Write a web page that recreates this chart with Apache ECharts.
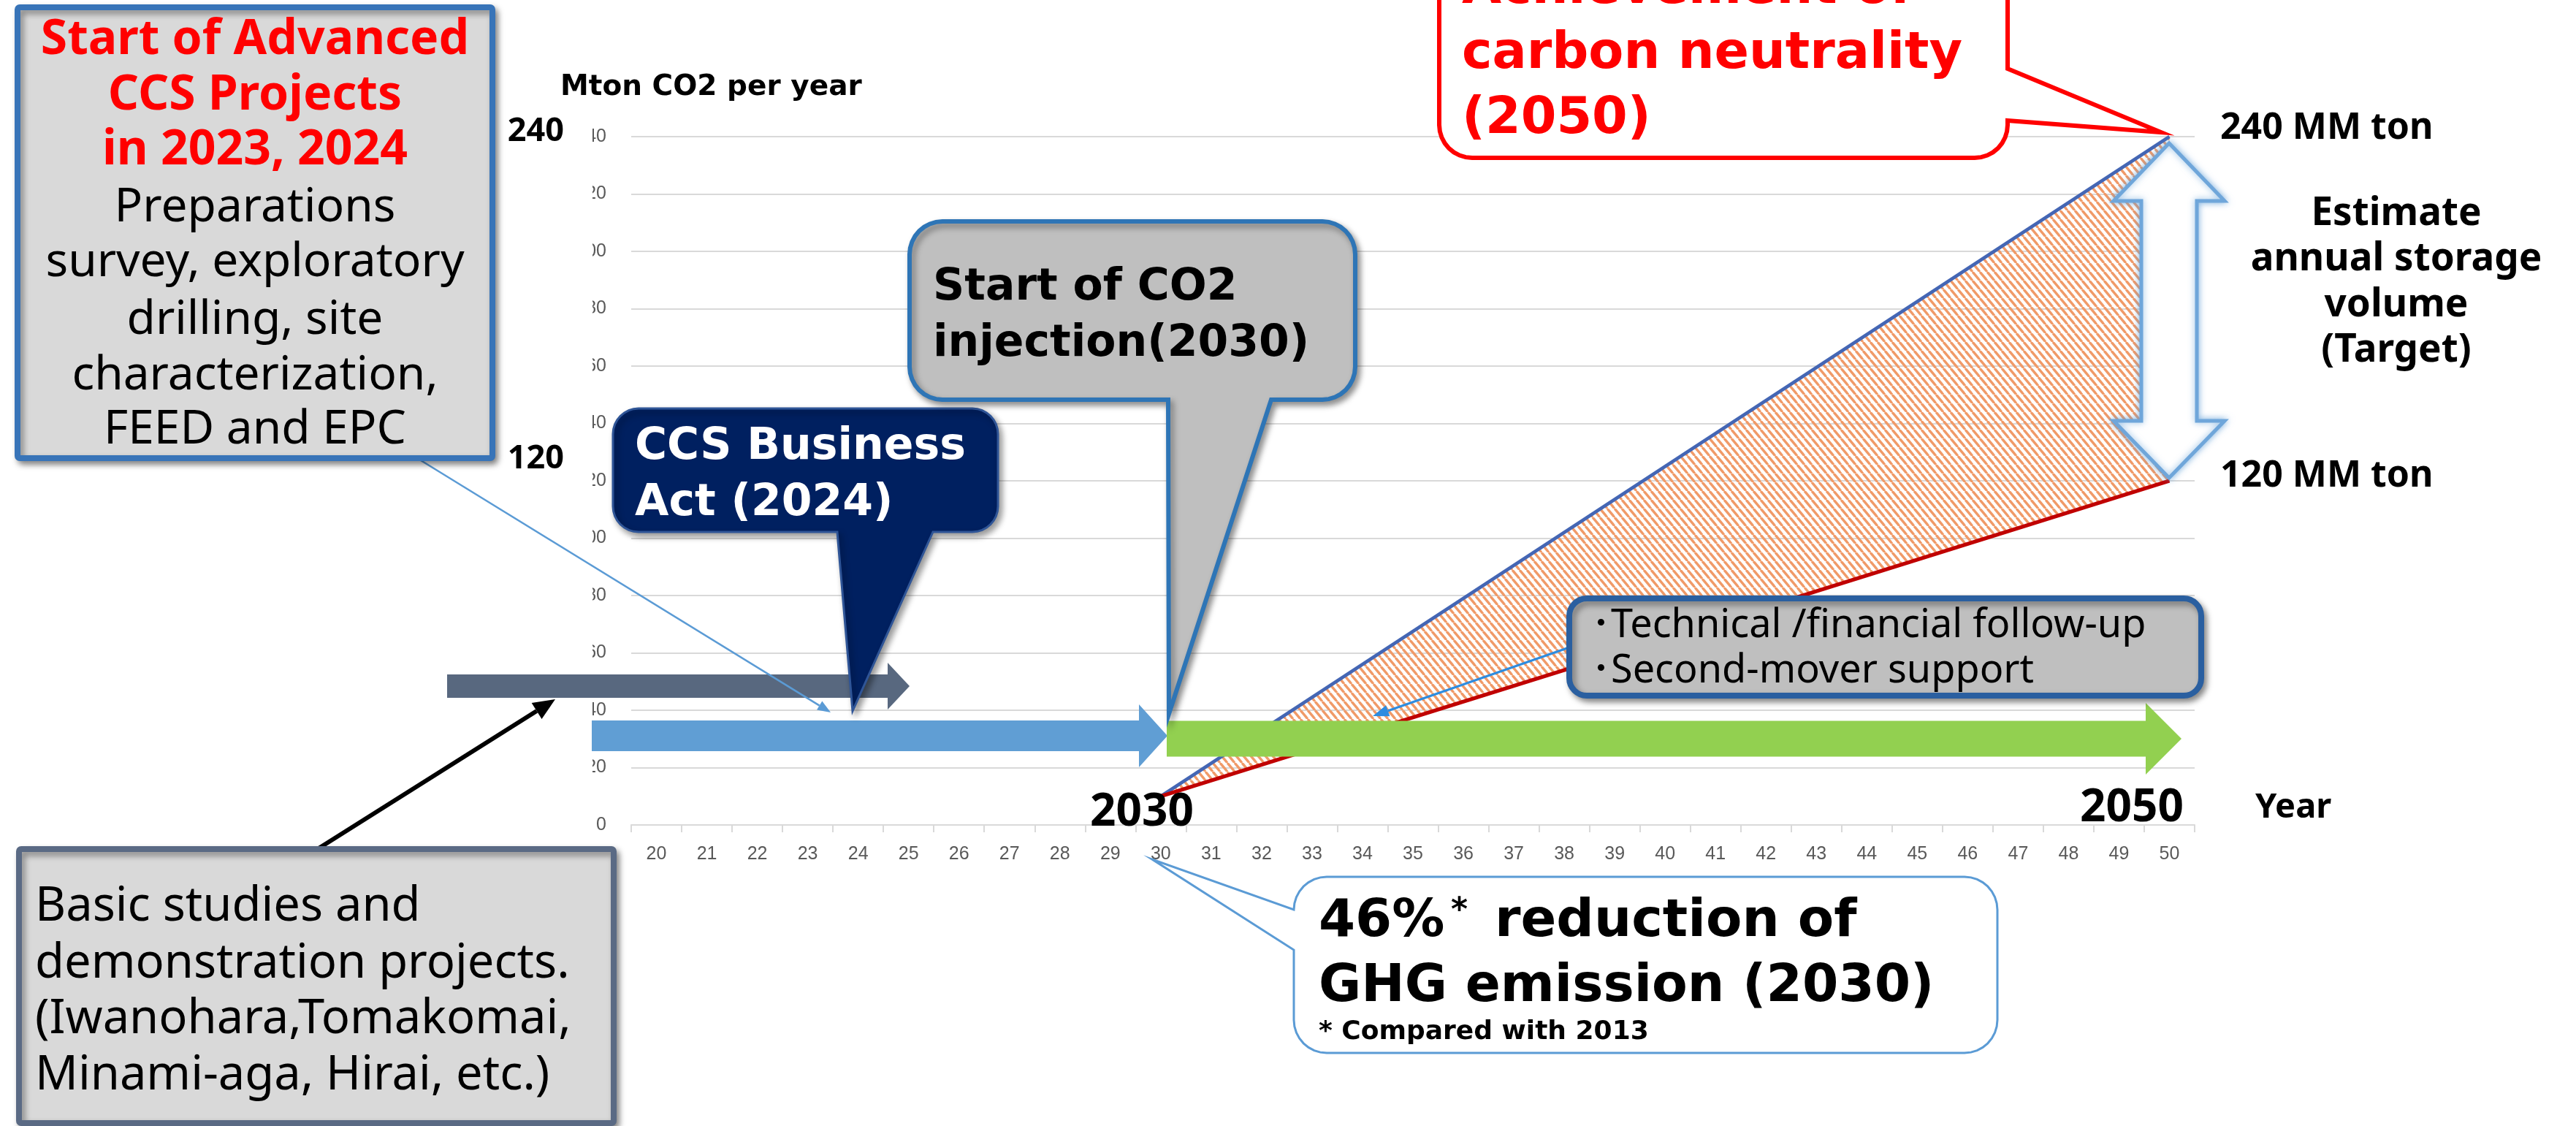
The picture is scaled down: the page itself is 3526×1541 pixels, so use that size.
<!DOCTYPE html>
<html><head><meta charset="utf-8">
<script src="https://cdn.jsdelivr.net/npm/echarts/dist/echarts.min.js"></script>
<style>html,body{margin:0;padding:0;background:#fff}#c{width:3526px;height:1541px}</style>
</head><body><div id="c"></div>
<script>
// ---------- data ----------
const years = ['20','21','22','23','24','25','26','27','28','29','30','31','32','33','34','35','36','37','38','39','40','41','42','43','44','45','46','47','48','49','50'];
const yMin = 0, yMax = 240, yStep = 20;
const storageYears = ['30', '50'];
const upperStorage = [10, 240];   // Mton CO2 per year (upper target)
const lowerStorage = [10, 120];   // Mton CO2 per year (lower target)

// ---------- helpers ----------
const DJ = '"DejaVu Sans"';
const NS = '"Noto Sans", "Noto Sans CJK JP"';
function callout(x, y, w, h, r, ptr) {
  const pts = [], N = 8;
  function arc(cx, cy, a0, a1) {
    for (let k = 0; k <= N; k++) {
      const a = (a0 + (a1 - a0) * k / N) * Math.PI / 180;
      pts.push([cx + r * Math.cos(a), cy + r * Math.sin(a)]);
    }
  }
  arc(x + w - r, y + r, -90, 0);
  if (ptr && ptr.side === 'right') pts.push([x + w, ptr.p1], ptr.tip, [x + w, ptr.p2]);
  arc(x + w - r, y + h - r, 0, 90);
  if (ptr && ptr.side === 'bottom') pts.push([ptr.b, y + h], ptr.tip, [ptr.a, y + h]);
  arc(x + r, y + h - r, 90, 180);
  if (ptr && ptr.side === 'left') pts.push([x, ptr.p2], ptr.tip, [x, ptr.p1]);
  arc(x + r, y + r, 180, 270);
  return pts;
}
function hArrow(x0, x1, cy, bh, hb, hh) {
  return [[x0, cy - bh], [hb, cy - bh], [hb, cy - hh], [x1, cy], [hb, cy + hh], [hb, cy + bh], [x0, cy + bh]];
}
function lineArrow(p0, p1, color, width, L, hw, z) {
  const dx = p1[0] - p0[0], dy = p1[1] - p0[1], len = Math.hypot(dx, dy);
  const ux = dx / len, uy = dy / len;
  const bx = p1[0] - ux * L, by = p1[1] - uy * L;
  return [
    { type: 'line', z: z, shape: { x1: p0[0], y1: p0[1], x2: bx, y2: by }, style: { stroke: color, lineWidth: width } },
    { type: 'polygon', z: z, shape: { points: [p1, [bx - uy * hw, by + ux * hw], [bx + uy * hw, by - ux * hw]] }, style: { fill: color } }
  ];
}
function txt(text, x, y, font, fill, align, z) {
  return { type: 'text', z: z || 40, style: { text: text, x: x, y: y, font: font, fill: fill,
    textAlign: align || 'left', align: align || 'left', textVerticalAlign: 'middle', verticalAlign: 'middle' } };
}

// hatch pattern
const pc = document.createElement('canvas');
pc.width = 10; pc.height = 12;
(function () {
  const g = pc.getContext('2d');
  g.strokeStyle = '#F09A68'; g.lineWidth = 3.4;
  for (let k = -1; k <= 1; k++) { g.beginPath(); g.moveTo(k * 10, 0); g.lineTo(k * 10 + 10, 12); g.stroke(); }
})();
const hatch = { image: pc, repeat: 'repeat' };

const shadow = { shadowBlur: 8, shadowOffsetX: 4, shadowOffsetY: 5, shadowColor: 'rgba(0,0,0,0.4)' };

const elements = [];
// white cover over clipped y labels
elements.push({ type: 'rect', z: 5, shape: { x: 680, y: 165, width: 131, height: 950 }, style: { fill: '#fff' } });
// arrows
elements.push({ type: 'polygon', z: 10, shape: { points: hArrow(612, 1245, 939, 16, 1215, 32) }, style: { fill: '#58687F' } });
elements.push({ type: 'polygon', z: 10, shape: { points: hArrow(810, 1598, 1007, 21, 1559, 43) }, style: { fill: '#609ED4' } });
elements.push({ type: 'polygon', z: 10, shape: { points: hArrow(1597, 2986, 1011, 24.5, 2937, 49) }, style: { fill: '#92D050' } });
// pointer lines
lineArrow([571, 627], [1137, 975], '#5B9BD5', 2.5, 18, 7, 12).forEach(e => elements.push(e));
lineArrow([433, 1163], [760, 957], '#000000', 6, 30, 13, 12).forEach(e => elements.push(e));
lineArrow([2148, 886], [1879, 980], '#2D8CE0', 3, 22, 8, 12).forEach(e => elements.push(e));

// Start of Advanced box
elements.push({ type: 'rect', z: 20, shape: { x: 24, y: 10, width: 650, height: 617, r: 3 },
  style: Object.assign({ fill: '#D9D9D9', stroke: '#3874B8', lineWidth: 8 }, shadow) });
[['Start of Advanced', 55], ['CCS Projects', 131], ['in 2023, 2024', 206]].forEach(a =>
  elements.push(txt(a[0], 349, a[1], 'bold 66px ' + NS, '#FF0000', 'center')));
[['Preparations', 285], ['survey, exploratory', 360], ['drilling, site', 439], ['characterization,', 515], ['FEED and EPC', 589]].forEach(a =>
  elements.push(txt(a[0], 349, a[1], '64px ' + NS, '#000000', 'center')));

// Basic studies box
elements.push({ type: 'rect', z: 20, shape: { x: 26, y: 1162, width: 814, height: 375, r: 3 },
  style: Object.assign({ fill: '#D9D9D9', stroke: '#5A6A84', lineWidth: 8 }, shadow) });
[['Basic studies and', 1241], ['demonstration projects.', 1319], ['(Iwanohara,Tomakomai,', 1395], ['Minami-aga, Hirai, etc.)', 1472]].forEach(a =>
  elements.push(txt(a[0], 48, a[1], '65px ' + NS, '#000000', 'left')));

// CCS Business Act callout
elements.push({ type: 'polygon', z: 22, shape: { points: callout(839, 559, 527, 169, 35, { side: 'bottom', a: 1146, b: 1277, tip: [1167, 973] }) },
  style: Object.assign({ fill: '#002060', stroke: '#2F5597', lineWidth: 3 }, shadow) });
elements.push(txt('CCS Business', 869, 612, 'bold 60px ' + DJ, '#FFFFFF', 'left'));
elements.push(txt('Act (2024)', 869, 689, 'bold 60px ' + DJ, '#FFFFFF', 'left'));

// Start of CO2 injection callout
elements.push({ type: 'polygon', z: 22, shape: { points: callout(1245, 303, 610, 244, 45, { side: 'bottom', a: 1599, b: 1740, tip: [1600, 977] }) },
  style: Object.assign({ fill: '#BFBFBF', stroke: '#2E75B6', lineWidth: 6 }, shadow) });
elements.push(txt('Start of CO2', 1277, 394, 'bold 60px ' + DJ, '#000000', 'left'));
elements.push(txt('injection(2030)', 1277, 471, 'bold 60px ' + DJ, '#000000', 'left'));

// Achievement of carbon neutrality callout
elements.push({ type: 'polygon', z: 22, shape: { points: callout(1970, -80, 778, 296, 45, { side: 'right', p1: 94, p2: 165, tip: [2958, 181] }) },
  style: { fill: '#FFFFFF', stroke: '#FF0000', lineWidth: 6 } });
[['Achievement of', -14], ['carbon neutrality', 75], ['(2050)', 164]].forEach(a =>
  elements.push(txt(a[0], 2001, a[1], 'bold 70px ' + DJ, '#FF0000', 'left')));

// Technical box
elements.push({ type: 'rect', z: 22, shape: { x: 2148, y: 819, width: 865, height: 133, r: 24 },
  style: Object.assign({ fill: '#BFBFBF', stroke: '#2A5FA0', lineWidth: 8 }, shadow) });
elements.push(txt('･Technical /financial follow-up', 2178, 857, '54px ' + NS, '#000000', 'left'));
elements.push(txt('･Second-mover support', 2178, 919, '54px ' + NS, '#000000', 'left'));

// 46% callout
elements.push({ type: 'polygon', z: 22, shape: { points: callout(1771, 1200, 963, 241, 45, { side: 'left', p1: 1245, p2: 1300, tip: [1577, 1176] }) },
  style: { fill: '#FFFFFF', stroke: '#5B9BD5', lineWidth: 3 } });
elements.push(txt('46%', 1805, 1262, 'bold 72px ' + DJ, '#000000', 'left'));
elements.push(txt('*', 1986, 1248, 'bold 44px ' + DJ, '#000000', 'left'));
elements.push(txt('reduction of', 2046, 1262, 'bold 72px ' + DJ, '#000000', 'left'));
elements.push(txt('GHG emission (2030)', 1805, 1352, 'bold 71px ' + DJ, '#000000', 'left'));
elements.push(txt('* Compared with 2013', 1805, 1413, 'bold 36px ' + DJ, '#000000', 'left'));

// double arrow
(function () {
  const cx = 2969, top = 196, hb1 = 275, hb2 = 576, bot = 654, hh = 76, sh = 38;
  elements.push({ type: 'polygon', z: 15, shape: { points: [[cx, top], [cx + hh, hb1], [cx + sh, hb1], [cx + sh, hb2], [cx + hh, hb2], [cx, bot], [cx - hh, hb2], [cx - sh, hb2], [cx - sh, hb1], [cx - hh, hb1]] },
    style: { fill: '#FFFFFF', stroke: '#6FA6DA', lineWidth: 5, shadowBlur: 10, shadowColor: 'rgba(91,155,213,0.7)' } });
})();

// plain labels
elements.push(txt('Mton CO2 per year', 767, 120, 'bold 39px ' + DJ, '#000000', 'left'));
elements.push(txt('240', 772, 180, 'bold 45px ' + NS, '#000000', 'right'));
elements.push(txt('120', 772, 628, 'bold 45px ' + NS, '#000000', 'right'));
elements.push(txt('2030', 1563, 1112, 'bold 62px ' + NS, '#000000', 'center'));
elements.push(txt('2050', 2918, 1106, 'bold 62px ' + NS, '#000000', 'center'));
elements.push(txt('Year', 3087, 1106, 'bold 47px ' + NS, '#000000', 'left'));
elements.push(txt('240 MM ton', 3039, 176, 'bold 50px ' + NS, '#000000', 'left'));
elements.push(txt('120 MM ton', 3039, 652, 'bold 50px ' + NS, '#000000', 'left'));
[['Estimate', 293], ['annual storage', 355], ['volume', 418], ['(Target)', 480]].forEach(a =>
  elements.push(txt(a[0], 3280, a[1], 'bold 53px ' + NS, '#000000', 'center')));

const chart = echarts.init(document.getElementById('c'), null, { renderer: 'canvas' });
chart.setOption({
  backgroundColor: '#FFFFFF',
  animation: false,
  grid: { left: 864, right: 522, top: 187, bottom: 412, containLabel: false, outerBoundsMode: 'none' },
  xAxis: {
    type: 'category', data: years, boundaryGap: true,
    axisLine: { show: true, lineStyle: { color: '#D9D9D9', width: 2 } },
    axisTick: { show: true, length: 10, alignWithLabel: false, lineStyle: { color: '#D9D9D9', width: 2 } },
    axisLabel: { color: '#595959', fontSize: 25, fontFamily: '"Liberation Sans", Arial', margin: 28, interval: 0 },
    splitLine: { show: false }
  },
  yAxis: {
    type: 'value', min: yMin, max: yMax, interval: yStep,
    axisLine: { show: false }, axisTick: { show: false },
    axisLabel: { color: '#595959', fontSize: 25, fontFamily: '"Liberation Sans", Arial', margin: 34 },
    splitLine: { show: true, lineStyle: { color: '#D9D9D9', width: 2 } }
  },
  series: [
    {
      type: 'custom', name: 'range', z: 2,
      data: storageYears.map((y, i) => [y, upperStorage[i], lowerStorage[i]]),
      encode: { x: 0, y: [1, 2] },
      renderItem: function (params, api) {
        const i = params.dataIndex;
        if (i >= storageYears.length - 1) return { type: 'group', children: [] };
        const x0 = years.indexOf(storageYears[i]), x1 = years.indexOf(storageYears[i + 1]);
        const pts = [api.coord([x0, upperStorage[i]]), api.coord([x1, upperStorage[i + 1]]),
                     api.coord([x1, lowerStorage[i + 1]]), api.coord([x0, lowerStorage[i]])];
        return { type: 'polygon', shape: { points: pts }, style: { fill: hatch } };
      }
    },
    {
      type: 'line', name: 'upper', z: 3, symbol: 'none',
      data: storageYears.map((y, i) => [y, upperStorage[i]]),
      lineStyle: { color: '#4466B4', width: 4.5 }
    },
    {
      type: 'line', name: 'lower', z: 3, symbol: 'none',
      data: storageYears.map((y, i) => [y, lowerStorage[i]]),
      lineStyle: { color: '#C00000', width: 5 }
    }
  ],
  graphic: { elements: elements }
});
</script>
</body></html>
